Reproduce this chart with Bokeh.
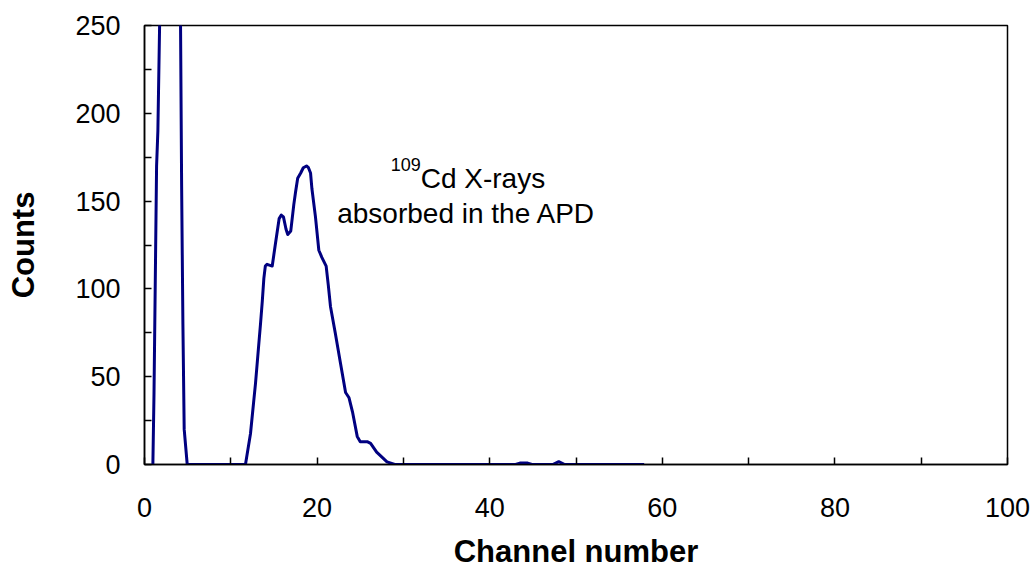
from bokeh.plotting import figure
from bokeh.models import ColumnDataSource, FixedTicker, Label
from bokeh.embed import file_html
from bokeh.resources import INLINE

# Pulse-height spectrum: channel number vs counts
channel = [0.97, 1.1, 1.4, 1.55, 1.75, 2.0, 3.0, 4.0, 4.15, 4.3, 4.45, 4.6, 4.95,
           11.7, 12.28, 12.86, 13.2, 13.44, 13.65, 13.83, 14.0, 14.2, 14.8,
           15.18, 15.6, 15.85, 16.1, 16.4, 16.6, 16.95, 17.3, 17.5, 17.75,
           18.1, 18.4, 18.77, 19.0, 19.24, 19.4, 19.81, 20.2, 20.55, 21.05,
           21.3, 21.55, 22.1, 22.7, 23.3, 23.7, 24.1, 24.65, 25.0, 25.8,
           26.2, 26.9, 28.1, 29.0,
           43.0, 43.5, 44.4, 44.9, 47.3, 48.0, 48.7, 57.9]
counts = [0, 40, 170, 190, 250, 330, 2000, 330, 270, 160, 80, 20, 0,
          0, 17.5, 46, 66, 80, 93, 106, 113, 114, 113,
          126, 140, 142, 141, 134, 131, 133, 148, 155, 163,
          166, 169, 170, 169, 166, 157, 141, 122, 118, 113,
          102, 90, 75, 58, 41, 38, 30, 16, 13, 13,
          12, 7, 1.5, 0,
          0, 0.8, 0.8, 0, 0, 1.6, 0, 0]

x_major = [0, 20, 40, 60, 80, 100]
x_minor = [10, 30, 50, 70, 90]
y_major = [0, 50, 100, 150, 200, 250]
y_minor = [25, 75, 125, 175, 225]

FONT = "Liberation Sans"

src = ColumnDataSource(dict(channel=channel, counts=counts))

p = figure(width=1033, height=571, x_range=(0, 100), y_range=(0, 250),
           output_backend="svg", toolbar_location=None,
           min_border_left=144, min_border_right=26,
           min_border_top=25, min_border_bottom=107)

p.line("channel", "counts", source=src, line_color="#000080",
       line_width=3, line_join="round")

p.xgrid.visible = False
p.ygrid.visible = False
p.background_fill_color = "white"
p.border_fill_color = "white"
p.outline_line_color = "black"
p.outline_line_width = 1.5
p.outline_line_alpha = 1.0

p.xaxis.ticker = FixedTicker(ticks=x_major, minor_ticks=x_minor)
p.yaxis.ticker = FixedTicker(ticks=y_major, minor_ticks=y_minor)

for ax in (p.xaxis, p.yaxis):
    ax.axis_line_color = "black"
    ax.axis_line_width = 1.5
    ax.major_tick_in = 7
    ax.major_tick_out = 0
    ax.minor_tick_in = 7
    ax.minor_tick_out = 0
    ax.major_tick_line_color = "black"
    ax.minor_tick_line_color = "black"
    ax.major_tick_line_width = 1.5
    ax.minor_tick_line_width = 1.5
    ax.major_label_text_font = FONT
    ax.major_label_text_font_size = "27px"
    ax.major_label_text_color = "black"
    ax.axis_label_text_font = FONT
    ax.axis_label_text_font_size = "31px"
    ax.axis_label_text_font_style = "bold"
    ax.axis_label_text_color = "black"

p.xaxis.axis_label = "Channel number"
p.yaxis.axis_label = "Counts"
p.xaxis.major_label_standoff = 33
p.yaxis.major_label_standoff = 24
p.xaxis.axis_label_standoff = 14
p.yaxis.axis_label_standoff = 31

# Annotation: 109Cd X-rays absorbed in the APD
p.add_layout(Label(x=32.0, y=163, text="Cd X-rays", text_align="left",
                   text_baseline="alphabetic", text_font=FONT,
                   text_font_size="28px", text_color="black"))
p.add_layout(Label(x=32.0, y=171, text="109", text_align="right",
                   text_baseline="alphabetic", text_font=FONT,
                   text_font_size="18px", text_color="black"))
p.add_layout(Label(x=37.3, y=143, text="absorbed in the APD",
                   text_align="center", text_baseline="alphabetic",
                   text_font=FONT, text_font_size="28px", text_color="black"))

open("out.html", "w").write(file_html(p, INLINE))
